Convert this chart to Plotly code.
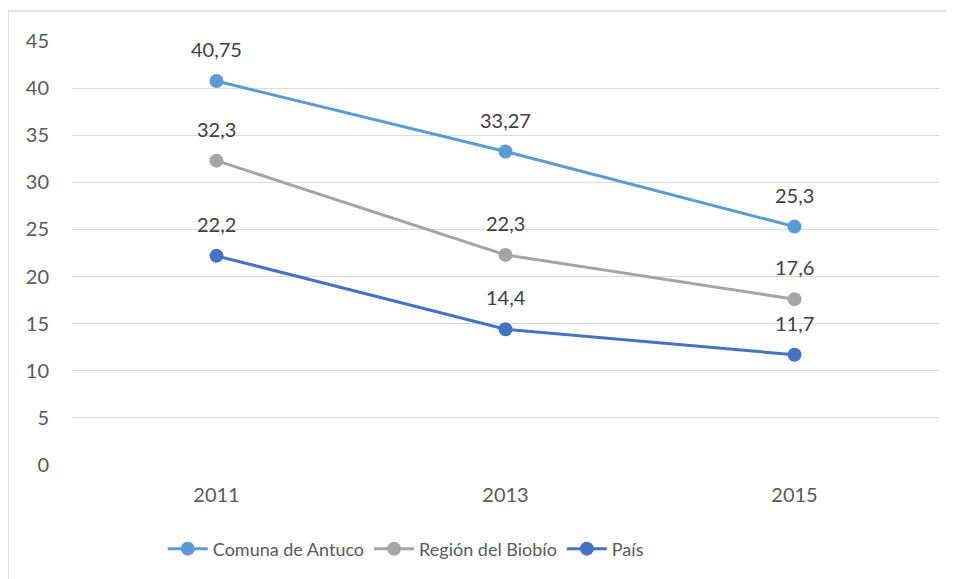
import plotly.graph_objects as go

years = ["2011", "2013", "2015"]
comuna = [40.75, 33.27, 25.3]
region = [32.3, 22.3, 17.6]
pais = [22.2, 14.4, 11.7]
y_ticks = [0, 5, 10, 15, 20, 25, 30, 35, 40, 45]

series = [
    ("Comuna de Antuco", comuna, "#5B9BD5"),
    ("Región del Biobío", region, "#A5A5A5"),
    ("País", pais, "#4472C4"),
]

FONT = "Lato, 'Open Sans', sans-serif"
fig = go.Figure()
annotations = []
for name, vals, col in series:
    fig.add_trace(go.Scatter(
        x=years, y=vals, name=name, mode="lines+markers",
        line=dict(color=col, width=3), marker=dict(color=col, size=14),
    ))
    for i, yv in enumerate(vals):
        annotations.append(dict(
            x=i, y=yv, xref="x", yref="y", text=str(yv).replace(".", ","),
            showarrow=False, yshift=32, font=dict(size=20, color="#404040", family=FONT),
        ))

fig.update_layout(
    width=954, height=579,
    margin=dict(l=64, r=23, t=33, b=122),
    paper_bgcolor="white", plot_bgcolor="white",
    font=dict(family=FONT, size=18, color="#595959"),
    showlegend=True,
    legend=dict(orientation="h", x=0.385, xanchor="center", y=-0.198, yanchor="middle",
                font=dict(size=18, color="#595959"), itemwidth=40),
    annotations=annotations,
    shapes=[
        dict(type="line", xref="paper", yref="paper", x0=-0.0738, x1=1.2, y0=1.0708, y1=1.0708,
             line=dict(color="#D9D9D9", width=1.5)),
        dict(type="line", xref="paper", yref="paper", x0=-0.0738, x1=-0.0738, y0=1.0708, y1=-0.4,
             line=dict(color="#D9D9D9", width=1.5)),
    ],
)
fig.update_xaxes(type="category", range=[-0.5, 2.5], showgrid=False, showline=False, zeroline=False,
                 ticks="", ticklabelstandoff=16, tickfont=dict(size=20, color="#595959"))
fig.update_yaxes(range=[0, 45], tickvals=y_ticks, showgrid=True, gridcolor="#D9D9D9", gridwidth=1,
                 zeroline=False, showline=False, ticks="", ticklabelstandoff=22,
                 tickfont=dict(size=20, color="#595959"))
fig.write_html("out.html")
